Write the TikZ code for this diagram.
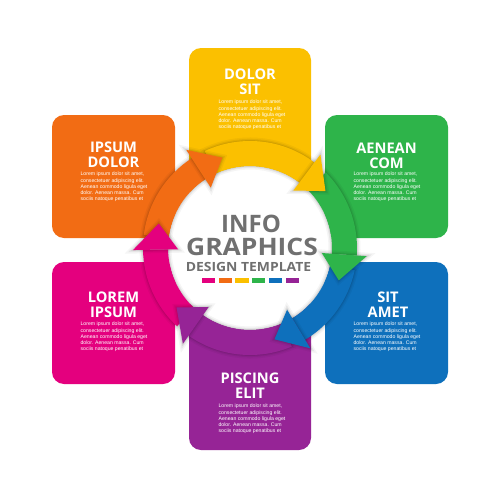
\documentclass[tikz,border=0pt]{standalone}
\usepackage{fontspec}
\setmainfont{Liberation Sans}
\newfontfamily\headfont{Open Sans}

\definecolor{cpink}{RGB}{228,0,126}
\definecolor{corange}{RGB}{242,108,20}
\definecolor{cyellow}{RGB}{251,192,0}
\definecolor{cgreen}{RGB}{46,180,74}
\definecolor{cblue}{RGB}{14,112,188}
\definecolor{cpurple}{RGB}{150,36,150}
\definecolor{cgray}{RGB}{112,112,112}

\newcommand{\loremtext}{Lorem ipsum dolor sit amet,\\consectetuer adipiscing elit.\\Aenean commodo ligula eget\\dolor. Aenean massa. Cum\\sociis natoque penatibus et}

\begin{document}
\begin{tikzpicture}[x=0.03cm, y=0.03cm,
		box/.style={rounded corners=3.6mm},
		title/.style={text=white, inner sep=0, align=center, font=\headfont\bfseries\fontsize{12.5}{12.8}\selectfont},
		body/.style={text=white, inner sep=0, align=left, anchor=north, font=\fontsize{4.4}{5.3}\selectfont},
		shade/.style={line join=round,
			preaction={draw=black, opacity=0.04, line width=6pt},
			preaction={draw=black, opacity=0.06, line width=3.5pt},
			preaction={draw=black, opacity=0.08, line width=1.5pt}},
		bigword/.style={text=cgray, inner sep=0, font=\headfont\bfseries\fontsize{20.5}{22}\selectfont}]

		\useasboundingbox (0,0) rectangle (500,-500);
		\fill[white] (0,0) rectangle (500,-500);

		% Draw the six boxes
		\fill[cyellow, box] (189,-48) rectangle (311,-200);
		\fill[corange, box] (52,-115) rectangle (175,-238);
		\fill[cgreen, box] (325,-115) rectangle (448,-238);
		\fill[cpink, box] (52,-262) rectangle (175,-384);
		\fill[cblue, box] (325,-262) rectangle (448,-384);
		\fill[cpurple, box] (189,-296) rectangle (311,-450);

		% Box titles and texts
		\node[title] (t1) at (250,-81.5) {DOLOR\\SIT};
		\node[body] (b1) at (252,-100) {\loremtext};
		\node[title] (t2) at (113.5,-155) {IPSUM\\DOLOR};
		\node[body] (b2) at (114,-172) {\loremtext};
		\node[title] (t3) at (386.5,-155.5) {AENEAN\\COM};
		\node[body] (b3) at (387,-172) {\loremtext};
		\node[title] (t4) at (388,-304.5) {SIT\\AMET};
		\node[body] (b4) at (387,-322) {\loremtext};
		\node[title] (t5) at (113.5,-304.5) {LOREM\\IPSUM};
		\node[body] (b5) at (114,-322) {\loremtext};
		\node[title] (t6) at (250,-385.5) {PISCING\\ELIT};
		\node[body] (b6) at (252,-404) {\loremtext};

		% Draw the white centre circle
		\fill[white] (250,-248) circle (82);

		% Draw the arrow ring (bands first, heads on top)
		\begin{scope}[shift={(250,-248)}]
			\foreach \tip/\prev/\col in {165/219/cpink, 107/165/corange, 37/107/cyellow, -20/37/cgreen, -75/-20/cblue, -141/-75/cpurple}{
				\pgfmathsetmacro{\a}{\prev+8}
				\pgfmathsetmacro{\b}{\tip+16}
				\fill[\col, shade] (\a:107) arc[start angle=\a, end angle=\b, radius=107] -- (\b:82) arc[start angle=\b, end angle=\a, radius=82] -- cycle;
			}
			\foreach \tip/\col in {165/cpink, 107/corange, 37/cyellow, -20/cgreen, -75/cblue, -141/cpurple}{
				\pgfmathsetmacro{\b}{\tip+16}
				\fill[\col, shade] (\b:117) -- (\tip:94.5) -- (\b:72) -- cycle;
			}
		\end{scope}

		% Centre text
		\node[bigword] (info) at (251,-224) {INFO};
		\node[bigword, xscale=1.1] (graphics) at (252,-247) {GRAPHICS};
		\node[text=cgray, inner sep=0, xscale=1.1, font=\headfont\bfseries\fontsize{10.8}{12}\selectfont] (design) at (248.5,-266.5) {DESIGN TEMPLATE};
		\foreach \col [count=\i from 0] in {cpink, corange, cyellow, cgreen, cblue, cpurple}
			\fill[\col] ({202+\i*16.7},-278) rectangle +(13.3,-5);

	\end{tikzpicture}
\end{document}
